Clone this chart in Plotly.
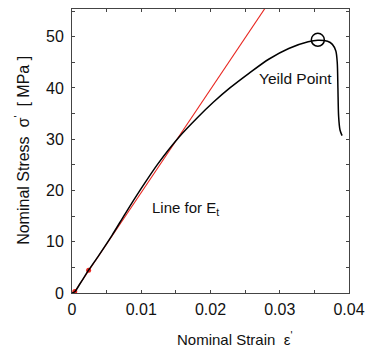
import plotly.graph_objects as go

# Black measured curve
strain = [0, 0.0004, 0.0012, 0.0024, 0.0039, 0.0058, 0.0077, 0.0100, 0.0124, 0.0155,
          0.0181, 0.0204, 0.0228, 0.0256, 0.0284, 0.0313, 0.0341, 0.0355, 0.0369,
          0.0376, 0.0381, 0.0383, 0.0384, 0.0385, 0.0387, 0.0390]
stress = [0, 0.25, 1.9, 4.45, 7.4, 11.3, 15.5, 20.4, 25.2, 30.5,
          34.2, 37.2, 40.0, 42.9, 45.6, 47.7, 49.0, 49.3, 49.1,
          48.5, 47.2, 45.0, 40.0, 34.5, 31.8, 30.7]

# Red line for E_t
line_strain = [0.0004, 0.0280]
line_stress = [0.3, 55.8]
dot_strain = [0.0004, 0.0024]
dot_stress = [0.3, 4.45]

# Yield point
yield_strain = [0.0355]
yield_stress = [49.4]

x_tickvals = [0, 0.01, 0.02, 0.03, 0.04]
x_ticktext = ["0", "0.01", "0.02", "0.03", "0.04"]
y_tickvals = [0, 10, 20, 30, 40, 50]
y_ticktext = ["0", "10", "20", "30", "40", "50"]

FONT = "Liberation Sans, Arial, sans-serif"
AX = "#444444"

fig = go.Figure()
fig.add_trace(go.Scatter(x=line_strain, y=line_stress, mode="lines",
                         line=dict(color="#e8251f", width=1.1), showlegend=False))
fig.add_trace(go.Scatter(x=dot_strain, y=dot_stress, mode="markers",
                         marker=dict(color="#e8251f", size=5), showlegend=False))
fig.add_trace(go.Scatter(x=strain, y=stress, mode="lines",
                         line=dict(color="black", width=1.5, shape="spline", smoothing=0.8),
                         showlegend=False))
fig.add_trace(go.Scatter(x=yield_strain, y=yield_stress, mode="markers",
                         marker=dict(symbol="circle-open", size=13, color="black",
                                     line=dict(width=1.5, color="black")),
                         showlegend=False))

axis_common = dict(showline=True, linecolor=AX, linewidth=1, mirror="ticks",
                   ticks="inside", ticklen=3, tickcolor=AX, tickwidth=1,
                   showgrid=False, zeroline=False, tickmode="array",
                   tickfont=dict(family=FONT, size=16, color="#111"))

fig.update_xaxes(range=[0, 0.04], tickvals=x_tickvals, ticktext=x_ticktext,
                 minor=dict(tickmode="linear", tick0=0, dtick=0.005, ticks="inside",
                            ticklen=3, tickcolor=AX, showgrid=False),
                 ticklabelstandoff=2, **axis_common)
fig.update_yaxes(range=[0, 55.4], tickvals=y_tickvals, ticktext=y_ticktext,
                 minor=dict(tickmode="linear", tick0=0, dtick=5, ticks="inside",
                            ticklen=3, tickcolor=AX, showgrid=False),
                 ticklabelstandoff=4, **axis_common)

fig.add_annotation(x=0.0323, y=41.9, xref="x", yref="y", text="Yeild Point",
                   showarrow=False, xanchor="center", yanchor="middle",
                   font=dict(family=FONT, size=15.5, color="#111"))
fig.add_annotation(x=0.01122, y=16.5, xref="x", yref="y", text="Line for E<sub>t</sub>",
                   showarrow=False, xanchor="left", yanchor="middle",
                   font=dict(family=FONT, size=15, color="#111"))
fig.add_annotation(x=-0.18, y=0.501, xref="paper", yref="paper",
                   text="Nominal Stress \u00a0σ<sup>'</sup> \u00a0[ MPa ]",
                   textangle=-90, showarrow=False, xanchor="center", yanchor="middle",
                   font=dict(family=FONT, size=16, color="#111"))
fig.add_annotation(x=0.585, y=-0.161, xref="paper", yref="paper",
                   text="Nominal Strain \u00a0ε<sup>'</sup>",
                   showarrow=False, xanchor="center", yanchor="middle",
                   font=dict(family=FONT, size=15, color="#111"))

fig.update_layout(width=373, height=349, autosize=False,
                  margin=dict(l=72, r=18, t=8, b=56),
                  paper_bgcolor="white", plot_bgcolor="white",
                  font=dict(family=FONT, color="#111"))

fig.write_html("out.html", config={"displayModeBar": False},
               post_script="document.body.style.margin='0';document.body.style.padding='0';")
